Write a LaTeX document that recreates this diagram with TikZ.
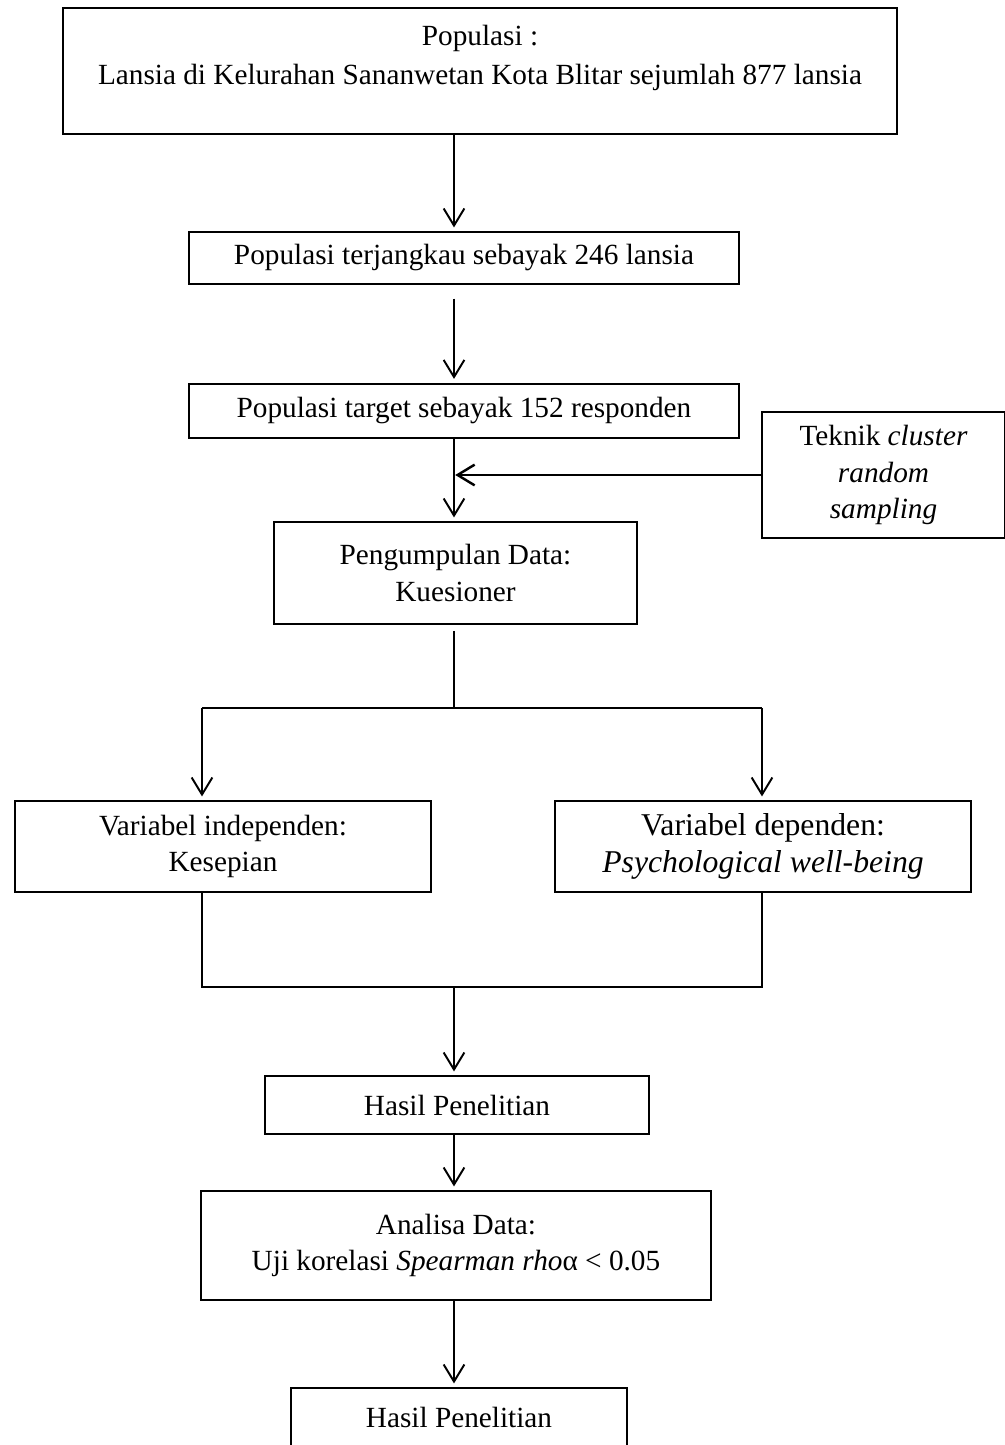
\documentclass[tikz,border=0pt]{standalone}
\usepackage{fontspec}
\setmainfont{Liberation Serif}
\usetikzlibrary{arrows.meta}

\begin{document}
\begin{tikzpicture}[x=0.41pt,y=-0.41pt,
	font=\fontsize{12}{14.8}\selectfont,
	box/.style={draw,line width=0.55pt,align=center,inner sep=0pt},
	line/.style={line width=0.8pt},
	arr/.style={line,-{Straight Barb[length=7pt,width=8.5pt]},shorten >=1.6pt}]
	\useasboundingbox (0,0) rectangle (1005,1445);
	%% kotak
	\node[box,font=\fontsize{12}{16}\selectfont,minimum width=834*0.41pt,minimum height=126*0.41pt,text depth=13pt] (b1) at (480,71)
		{Populasi :\\Lansia di Kelurahan Sananwetan Kota Blitar sejumlah 877 lansia};
	\node[box,minimum width=550*0.41pt,minimum height=52*0.41pt] (b2) at (464,258) {Populasi terjangkau sebayak 246 lansia};
	\node[box,line width=1pt,minimum width=550*0.41pt,minimum height=54*0.41pt] (b3) at (464,411) {Populasi target sebayak 152 responden};
	\node[box,minimum width=243*0.41pt,minimum height=126*0.41pt] (t1) at (883.5,475) {Teknik \textit{cluster}\\\textit{random}\\\textit{sampling}};
	\node[box,minimum width=363*0.41pt,minimum height=102*0.41pt] (b4) at (455.5,573) {Pengumpulan Data:\\Kuesioner};
	\node[box,minimum width=416*0.41pt,minimum height=91*0.41pt] (b5) at (223,846.5) {Variabel independen:\\Kesepian};
	\node[box,font=\fontsize{13}{15.2}\selectfont,minimum width=416*0.41pt,minimum height=91*0.41pt] (b6) at (763,846.5)
		{Variabel dependen:\\\textit{Psychological well-being}};
	\node[box,minimum width=384*0.41pt,minimum height=58*0.41pt] (b7) at (457,1105) {Hasil Penelitian};
	\node[box,minimum width=510*0.41pt,minimum height=109*0.41pt] (b8) at (456,1245.5)
		{Analisa Data:\\Uji korelasi \textit{Spearman rho}α < 0.05};
	\node[box,minimum width=336*0.41pt,minimum height=58*0.41pt] (b9) at (459,1417) {Hasil Penelitian};
	% titik bantu
	\coordinate (ax) at (454,0);
	\coordinate (c1) at (454,708);
	\coordinate (c2) at (454,987);
	\coordinate (cl) at (202,0);
	\coordinate (cr) at (762,0);
	% panah
	\draw[arr] (b1.south -| ax) -- (b2.north -| ax);
	\draw[arr,shorten <=5.7pt] (b2.south -| ax) -- (b3.north -| ax);
	\draw[arr] (b3.south -| ax) -- (b4.north -| ax);
	\draw[arr,line width=1pt,shorten >=0.5pt] (t1.west) -- (t1.west -| ax);
	\draw[line width=0.55pt,shorten <=2.5pt] (b4.south -| ax) -- (c1);
	\draw[line] (c1 -| cl) -- (c1 -| cr);
	\draw[arr] (c1 -| cl) -- (b5.north -| cl);
	\draw[arr] (c1 -| cr) -- (b6.north -| cr);
	\draw[line] (b5.south -| cl) |- (c2) -| (b6.south -| cr);
	\draw[arr] (c2) -- (b7.north -| ax);
	\draw[arr] (b7.south -| ax) -- (b8.north -| ax);
	\draw[arr] (b8.south -| ax) -- (b9.north -| ax);
\end{tikzpicture}
\end{document}
